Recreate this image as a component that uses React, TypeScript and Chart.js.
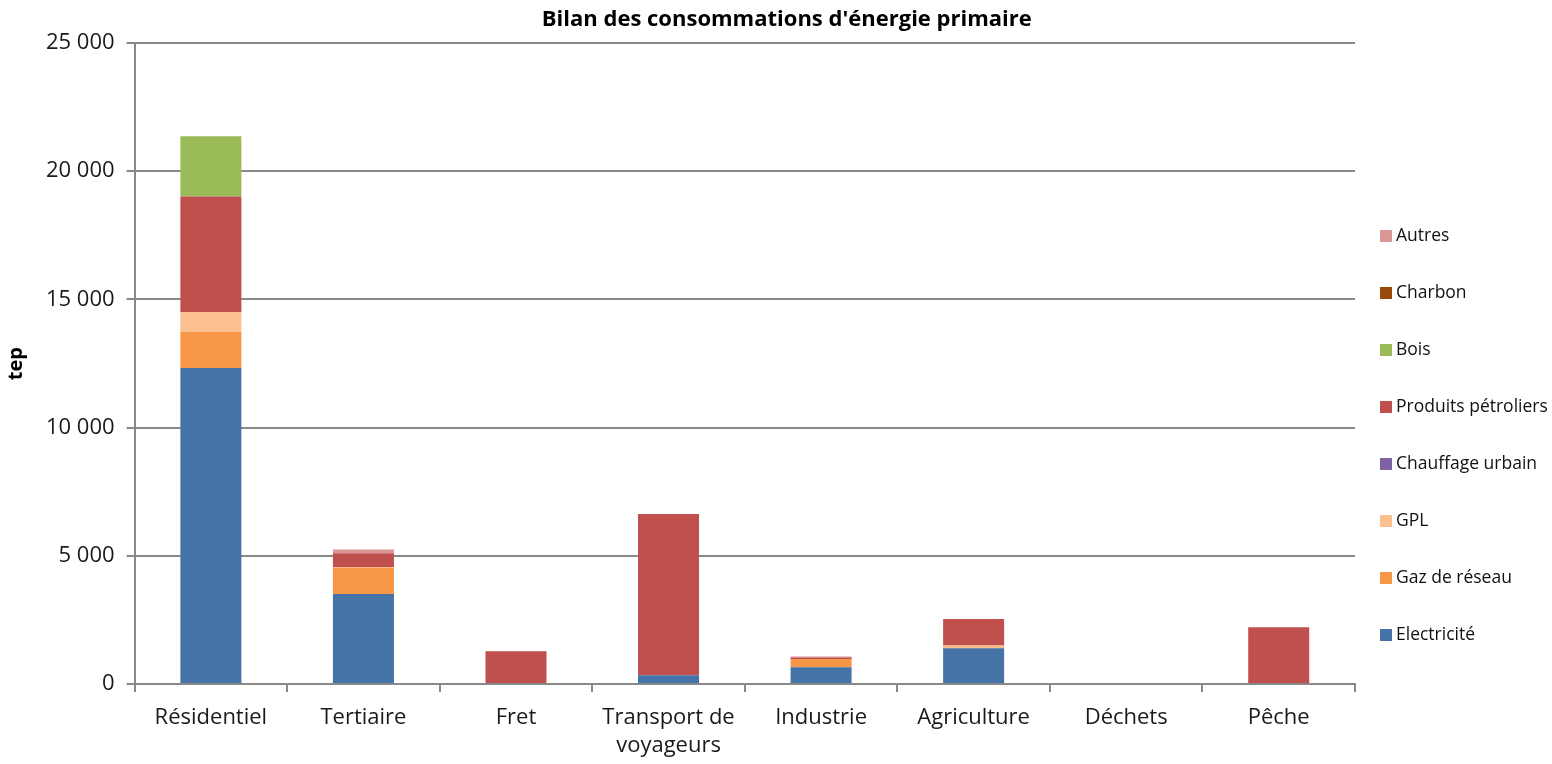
import React, { useEffect, useRef } from "react";
import { Chart, registerables } from "chart.js";

Chart.register(...registerables);

const categories: (string | string[])[] = [
  "Résidentiel",
  "Tertiaire",
  "Fret",
  ["Transport de", "voyageurs"],
  "Industrie",
  "Agriculture",
  "Déchets",
  "Pêche",
];

const electricite = [12330, 3510, 0, 350, 660, 1400, 0, 0];
const gazReseau = [1400, 1040, 0, 0, 320, 30, 0, 0];
const gpl = [780, 20, 0, 0, 0, 80, 0, 0];
const chauffageUrbain = [0, 0, 0, 0, 0, 0, 0, 0];
const produitsPetroliers = [4500, 530, 1280, 6280, 60, 1030, 0, 2220];
const bois = [2350, 0, 0, 0, 0, 0, 0, 0];
const charbon = [0, 0, 0, 0, 0, 0, 0, 0];
const autres = [0, 150, 0, 0, 40, 0, 0, 0];

const yTicks = [0, 5000, 10000, 15000, 20000, 25000];

const FONT = "'Open Sans', sans-serif";

const fmt = (v: number) => String(Math.round(v)).replace(/\B(?=(\d{3})+(?!\d))/g, " ");

const customPlugin = {
  id: "customDecor",
  afterDraw(chart: any) {
    const ctx = chart.ctx;
    const area = chart.chartArea;
    ctx.save();
    // Title
    ctx.fillStyle = "#000";
    ctx.font = `bold 22px ${FONT}`;
    ctx.textAlign = "center";
    ctx.textBaseline = "middle";
    ctx.fillText("Bilan des consommations d'énergie primaire", area.left + (area.right - area.left) / 2 + 42, 20);
    // Legend (reversed order)
    const ds = chart.data.datasets.slice().reverse();
    ctx.font = `17.5px ${FONT}`;
    ctx.textAlign = "left";
    ds.forEach((d: any, i: number) => {
      const y = area.top + 193 + i * 57;
      ctx.fillStyle = d.backgroundColor;
      ctx.fillRect(area.right + 25, y - 6, 12, 12);
      ctx.fillStyle = "#111";
      ctx.fillText(d.label, area.right + 41, y);
    });
    ctx.restore();
  },
};

export default function App() {
  const ref = useRef<HTMLCanvasElement>(null);
  useEffect(() => {
    if (!ref.current) return;
    const mk = (label: string, data: number[], color: string) => ({
      label,
      data,
      backgroundColor: color,
      borderWidth: 0,
      barPercentage: 0.4,
      categoryPercentage: 1,
    });
    const chart = new Chart(ref.current, {
      type: "bar",
      data: {
        labels: categories,
        datasets: [
          mk("Electricité", electricite, "#4572A7"),
          mk("Gaz de réseau", gazReseau, "#F79646"),
          mk("GPL", gpl, "#FAC090"),
          mk("Chauffage urbain", chauffageUrbain, "#8064A2"),
          mk("Produits pétroliers", produitsPetroliers, "#C0504D"),
          mk("Bois", bois, "#9BBB59"),
          mk("Charbon", charbon, "#984807"),
          mk("Autres", autres, "#D99694"),
        ],
      },
      options: {
        animation: false,
        responsive: true,
        maintainAspectRatio: false,
        layout: { padding: { top: 43, right: 197, left: 4, bottom: -8 } },
        plugins: {
          legend: { display: false },
          title: { display: false },
          tooltip: { enabled: false },
        },
        scales: {
          x: {
            stacked: true,
            grid: {
              offset: true,
              drawOnChartArea: false,
              drawTicks: true,
              tickLength: 8,
              color: "#898989",
              lineWidth: 2,
            },
            border: { color: "#898989", width: 2 },
            ticks: {
              color: "#1a1a1a",
              font: { family: FONT, size: 22, lineHeight: 1.27 },
              maxRotation: 0,
              autoSkip: false,
              padding: 12,
            },
          },
          y: {
            stacked: true,
            min: 0,
            max: 25000,
            afterBuildTicks: (scale: any) => {
              scale.ticks = yTicks.map((v) => ({ value: v }));
            },
            grid: {
              color: "#898989",
              lineWidth: 2,
              tickLength: 8,
            },
            border: { color: "#898989", width: 2 },
            ticks: {
              color: "#1a1a1a",
              font: { family: FONT, size: 22 },
              padding: 12,
              callback: (v: any) => fmt(Number(v)),
            },
            title: {
              display: true,
              text: "tep",
              color: "#000",
              font: { family: FONT, size: 20, weight: "bold" },
              padding: { top: 0, bottom: 6 },
            },
          },
        },
      },
      plugins: [customPlugin],
    });
    return () => chart.destroy();
  }, []);
  return (
    <div style={{ position: "fixed", left: 0, top: 0, width: 1552, height: 764, background: "#fff" }}>
      <canvas ref={ref} />
    </div>
  );
}
